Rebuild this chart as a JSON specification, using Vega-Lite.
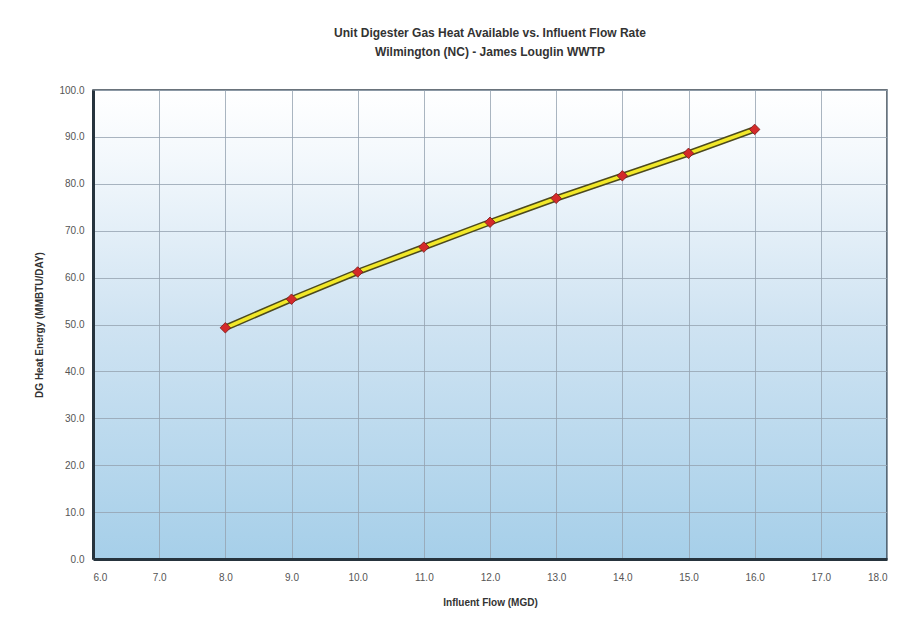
{
  "$schema": "https://vega.github.io/schema/vega-lite/v6.json",
  "width": 794,
  "height": 469,
  "autosize": "none",
  "padding": {"left": 93, "top": 90, "right": 32, "bottom": 68},
  "background": "white",
  "view": {
    "stroke": "#3a4650",
    "strokeWidth": 1.5,
    "fill": {
      "gradient": "linear",
      "x1": 0, "y1": 0, "x2": 0, "y2": 1,
      "stops": [
        {"offset": 0, "color": "#ffffff"},
        {"offset": 0.15, "color": "#f3f8fc"},
        {"offset": 0.5, "color": "#cfe3f2"},
        {"offset": 1, "color": "#a6cfe9"}
      ]
    }
  },
  "title": {
    "text": ["Unit Digester Gas Heat Available vs. Influent Flow Rate", "Wilmington (NC) - James Louglin WWTP"],
    "font": "Liberation Sans",
    "fontSize": 12,
    "fontWeight": "bold",
    "color": "#333333",
    "lineHeight": 19,
    "offset": 26,
    "anchor": "middle"
  },
  "config": {
    "axis": {
      "labelFont": "Liberation Sans",
      "labelFontSize": 10,
      "labelColor": "#555555",
      "titleFont": "Liberation Sans",
      "titleFontSize": 10,
      "titleFontWeight": "bold",
      "titleColor": "#333333",
      "gridColor": "#95a3b0",
      "gridWidth": 1,
      "gridOpacity": 0.8,
      "ticks": false,
      "domainColor": "#26333d",
      "domainWidth": 3
    }
  },
  "data": {
    "values": [
      {"flow": 8, "energy": 49.3},
      {"flow": 9, "energy": 55.4},
      {"flow": 10, "energy": 61.2},
      {"flow": 11, "energy": 66.5},
      {"flow": 12, "energy": 71.8},
      {"flow": 13, "energy": 76.9},
      {"flow": 14, "energy": 81.7},
      {"flow": 15, "energy": 86.5},
      {"flow": 16, "energy": 91.6}
    ]
  },
  "layer": [
    {
      "mark": {"type": "line", "color": "#4d4a1c", "strokeWidth": 6.5, "strokeJoin": "round", "strokeCap": "round"},
      "encoding": {
        "x": {
          "field": "flow", "type": "quantitative",
          "scale": {"domain": [6, 18], "nice": false, "zero": false},
          "axis": {"title": "Influent Flow (MGD)", "format": ".1f", "values": [6,7,8,9,10,11,12,13,14,15,16,17,18], "labelPadding": 13, "titlePadding": 15}
        },
        "y": {
          "field": "energy", "type": "quantitative",
          "scale": {"domain": [0, 100], "nice": false},
          "axis": {"title": "DG Heat Energy (MMBTU/DAY)", "format": ".1f", "values": [0,10,20,30,40,50,60,70,80,90,100], "labelPadding": 9, "titlePadding": 14}
        }
      }
    },
    {
      "mark": {"type": "line", "color": "#f2e829", "strokeWidth": 3.5, "strokeJoin": "round"},
      "encoding": {
        "x": {"field": "flow", "type": "quantitative"},
        "y": {"field": "energy", "type": "quantitative"}
      }
    },
    {
      "mark": {"type": "point", "shape": "diamond", "filled": true, "color": "#d42a2a", "stroke": "#7a1a1a", "strokeWidth": 0.8, "size": 110, "opacity": 1},
      "encoding": {
        "x": {"field": "flow", "type": "quantitative"},
        "y": {"field": "energy", "type": "quantitative"}
      }
    }
  ]
}
